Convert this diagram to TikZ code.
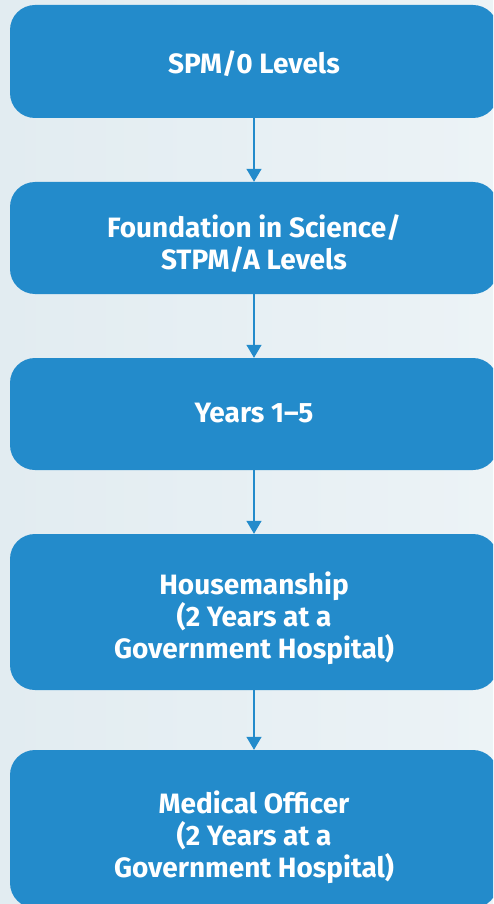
\documentclass[tikz,border=0pt]{standalone}
\usepackage{fontspec}
\setmainfont{Fira Sans}
\usetikzlibrary{arrows.meta}
\definecolor{boxblue}{RGB}{35,139,203}
\definecolor{bgleft}{RGB}{226,236,241}
\definecolor{bgright}{RGB}{236,243,246}
\tikzset{
  stage/.style={fill=boxblue, rounded corners=25pt, minimum width=488pt, inner sep=0pt},
  caption/.style={text=white, align=center, inner sep=0pt,
    font=\bfseries\fontsize{28}{32}\selectfont},
  flow/.style={draw=boxblue, line width=1.4pt, -{Triangle[width=15pt,length=13pt]}}
}
\begin{document}
\begin{tikzpicture}[x=1pt,y=-1pt]
\clip (0,0) rectangle (493,904);
\shade[left color=bgleft, right color=bgright] (0,0) rectangle (493,904);
\node[stage, minimum height=113pt] (b1) at (254,61.5) {};
\node[stage, minimum height=112pt] (b2) at (254,238) {};
\node[stage, minimum height=112pt] (b3) at (254,414) {};
\node[stage, minimum height=156pt] (b4) at (254,612) {};
\node[stage, minimum height=158pt] (b5) at (254,829) {};
\node[caption] (t1) at (254,63.5) {SPM/0 Levels};
\node[caption] (t2) at (254,243.5) {Foundation in Science/\\STPM/A Levels};
\node[caption] (t3) at (254,413.5) {Years 1–5};
\node[caption] (t4) at (254,618) {Housemanship\\(2 Years at a\\Government Hospital)};
\node[caption] (t5) at (254,837) {Medical Officer\\(2 Years at a\\Government Hospital)};
\draw[flow] (b1.south) -- (b2.north);
\draw[flow] (b2.south) -- (b3.north);
\draw[flow] (b3.south) -- (b4.north);
\draw[flow] (b4.south) -- (b5.north);
\end{tikzpicture}
\end{document}
